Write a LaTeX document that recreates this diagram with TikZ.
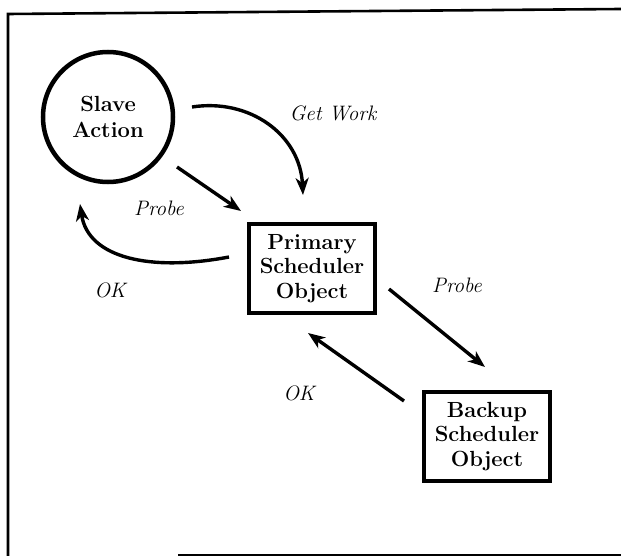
\documentclass[tikz,border=0pt]{standalone}
\usetikzlibrary{arrows.meta}
\begin{document}
\begin{tikzpicture}[x=1bp,y=-1bp,
  frameline/.style={line width=2.6bp},
  objbox/.style={draw,line width=4.5bp,minimum width=126bp,minimum height=89bp,
    align=center,inner sep=0pt,font=\fontsize{22}{24.5}\selectfont\bfseries},
  actor/.style={draw,circle,line width=4.5bp,minimum size=130bp,
    align=center,inner sep=0pt,font=\fontsize{22}{26}\selectfont\bfseries},
  msg/.style={line width=3.4bp,-{Stealth[length=17bp,width=13bp,inset=5bp]}},
  lbl/.style={font=\fontsize{21}{24}\selectfont\itshape,inner sep=0pt}]
\useasboundingbox (0,0) rectangle (621,556);

% outer frame (open on the right)
\draw[frameline] (621,9) -- (8,14) -- (8,556);
\draw[frameline] (178,555) -- (621,555);

% nodes
\node[actor] (slave) at (108,117) {Slave\\Action};
\node[objbox] (primary) at (312,268.5) {Primary\\Scheduler\\Object};
\node[objbox] (backup) at (487,436.5) {Backup\\Scheduler\\Object};

% connector end points
\coordinate (gwS) at (192,107);
\coordinate (gwE) at (303,195);
\coordinate (p1S) at (177,167);
\coordinate (p1E) at (241,211);
\coordinate (ok1S) at (229,257);
\coordinate (ok1E) at (80,204);
\coordinate (p2S) at (389,289);
\coordinate (p2E) at (485,367);
\coordinate (ok2S) at (404,401);
\coordinate (ok2E) at (308,333);

% messages
\draw[msg] (gwS) .. controls (250,98) and (300,135) .. (gwE);
\draw[msg] (p1S) -- (p1E);
\draw[msg] (ok1S) .. controls (150,272) and (88,258) .. (ok1E);
\draw[msg] (p2S) -- (p2E);
\draw[msg] (ok2S) -- (ok2E);

% labels
\node[lbl] (lgw) at (333,113) {Get Work};
\node[lbl] (lp1) at (159,208) {Probe};
\node[lbl] (lok1) at (110,290) {OK};
\node[lbl] (lp2) at (457,285) {Probe};
\node[lbl] (lok2) at (299,393) {OK};
\end{tikzpicture}
\end{document}
